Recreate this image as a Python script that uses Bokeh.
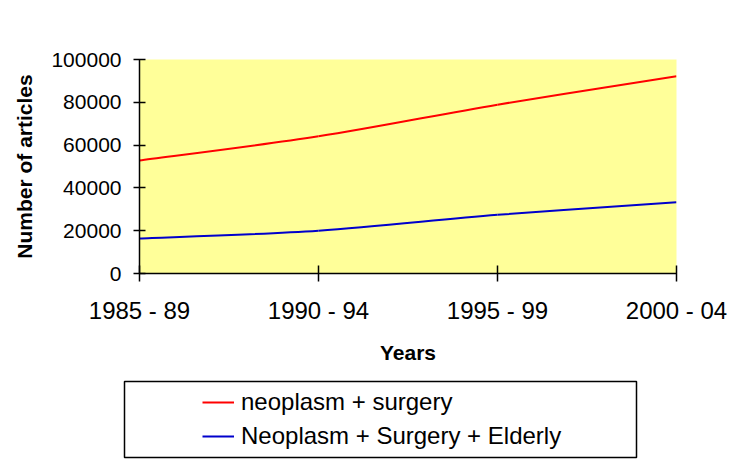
from bokeh.plotting import figure
from bokeh.models import Range1d, FixedTicker, Legend, LegendItem
from bokeh.layouts import column
from bokeh.embed import file_html
from bokeh.resources import INLINE

periods = ["1985 - 89", "1990 - 94", "1995 - 99", "2000 - 04"]
neoplasm_surgery = [52800, 64100, 78900, 92200]
neoplasm_surgery_elderly = [16400, 20000, 27400, 33300]
y_ticks = [0, 20000, 40000, 60000, 80000, 100000]
series_names = ["neoplasm + surgery", "Neoplasm + Surgery + Elderly"]
series_colors = ["#FF0000", "#0000CC"]

FONT = "Liberation Sans"
xs = list(range(len(periods)))
series = [neoplasm_surgery, neoplasm_surgery_elderly]


def smooth_segments(x, y):
    """Control points for a smoothed (Excel-like) curve through the data."""
    n = len(x)
    x0, y0, x1, y1, cx0, cy0, cx1, cy1 = [], [], [], [], [], [], [], []
    for i in range(n - 1):
        xp, yp = (x[i - 1], y[i - 1]) if i > 0 else (x[i], y[i])
        xn, yn = (x[i + 2], y[i + 2]) if i + 2 < n else (x[i + 1], y[i + 1])
        x0.append(x[i]); y0.append(y[i]); x1.append(x[i + 1]); y1.append(y[i + 1])
        cx0.append(x[i] + (x[i + 1] - xp) / 6); cy0.append(y[i] + (y[i + 1] - yp) / 6)
        cx1.append(x[i + 1] - (xn - x[i]) / 6); cy1.append(y[i + 1] - (yn - y[i]) / 6)
    return dict(x0=x0, y0=y0, x1=x1, y1=y1, cx0=cx0, cy0=cy0, cx1=cx1, cy1=cy1)


p = figure(width=742, height=373, output_backend="svg", toolbar_location=None,
           x_range=Range1d(0, len(periods) - 1), y_range=Range1d(0, 100000),
           min_border_left=139, min_border_right=66, min_border_top=59,
           min_border_bottom=100)
p.frame_align = False
p.background_fill_color = "#FFFF99"
p.border_fill_color = "white"
p.outline_line_color = None
p.xgrid.visible = False
p.ygrid.visible = False

for vals, col in zip(series, series_colors):
    p.bezier(**smooth_segments(xs, vals), line_color=col, line_width=2)

p.xaxis.ticker = FixedTicker(ticks=xs)
p.xaxis.major_label_overrides = {i: s for i, s in enumerate(periods)}
p.yaxis.ticker = FixedTicker(ticks=y_ticks)
p.yaxis.major_label_overrides = {v: str(v) for v in y_ticks}

for ax in (p.xaxis[0], p.yaxis[0]):
    ax.axis_line_color = "black"
    ax.axis_line_width = 1.5
    ax.major_tick_line_color = "black"
    ax.major_tick_line_width = 1.5
    ax.minor_tick_line_color = None
    ax.major_label_text_font = FONT
    ax.major_label_text_color = "black"
    ax.axis_label_text_font = FONT
    ax.axis_label_text_font_style = "bold"
    ax.axis_label_text_color = "black"

p.xaxis.major_tick_in = 8
p.xaxis.major_tick_out = 8
p.yaxis.major_tick_in = 6
p.yaxis.major_tick_out = 6
p.xaxis.major_label_text_font_size = "24px"
p.yaxis.major_label_text_font_size = "21px"
p.xaxis.major_label_standoff = 15
p.yaxis.major_label_standoff = 12
p.xaxis.axis_label = "Years"
p.yaxis.axis_label = "Number of articles"
p.xaxis.axis_label_text_font_size = "21px"
p.yaxis.axis_label_text_font_size = "21px"
p.xaxis.axis_label_standoff = 14
p.yaxis.axis_label_standoff = 12

# legend panel: its frame outline is the legend box
p2 = figure(width=742, height=91, output_backend="svg", toolbar_location=None,
            x_axis_location=None, y_axis_location=None,
            x_range=Range1d(100, 101), y_range=Range1d(-2e6, -1e6),
            min_border_left=124, min_border_right=106, min_border_top=8,
            min_border_bottom=7)
p2.frame_align = False
p2.outline_line_color = "black"
p2.outline_line_width = 1.5
p2.xgrid.visible = False
p2.ygrid.visible = False
p2.background_fill_color = "white"
p2.border_fill_color = "white"

items = []
for name, vals, col in zip(series_names, series, series_colors):
    r = p2.line(xs, vals, line_color=col, line_width=2)
    items.append(LegendItem(label=name, renderers=[r]))

legend = Legend(items=items, location=(78, 4), padding=0, spacing=0,
                glyph_width=32, glyph_height=34, label_height=34,
                label_standoff=7, label_text_font=FONT, label_text_font_size="24px",
                label_text_color="black",
                border_line_color=None, background_fill_alpha=0, margin=0)
p2.add_layout(legend, "center")

open("out.html", "w").write(file_html(column(p, p2, spacing=0), INLINE))
